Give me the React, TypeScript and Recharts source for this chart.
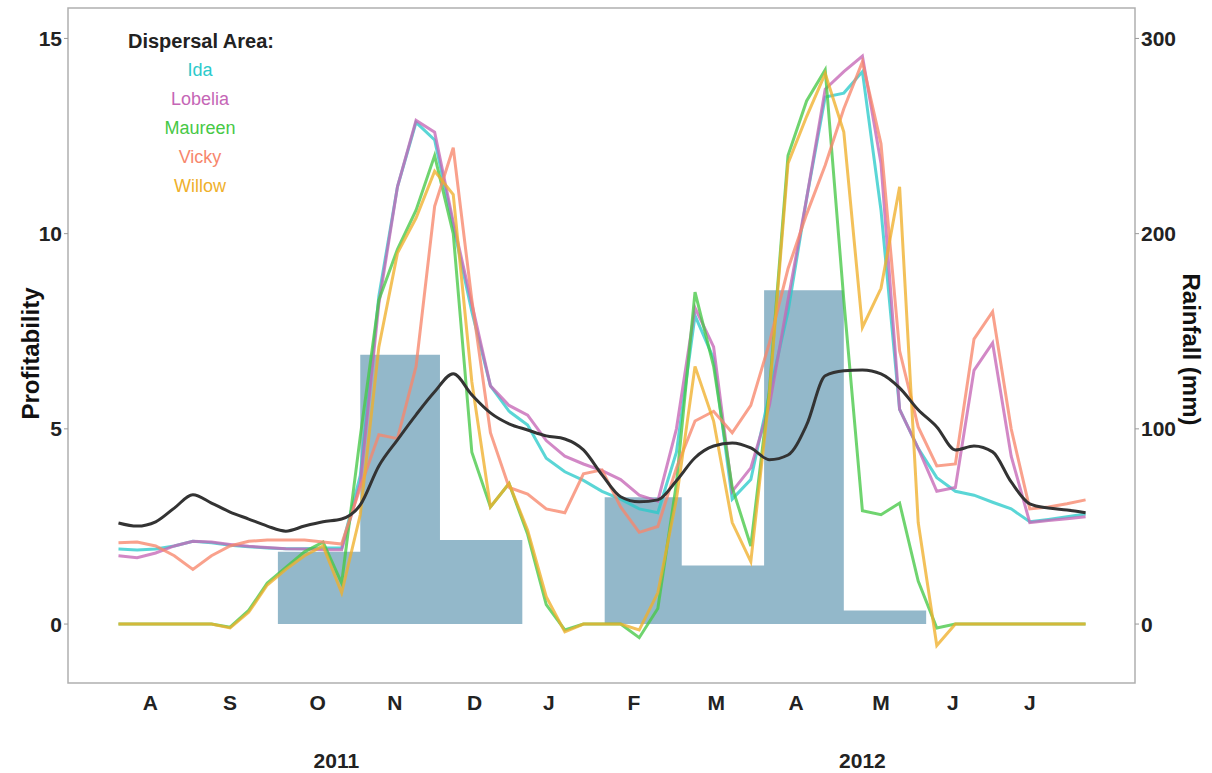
import React from 'react';
import { ComposedChart, Line, Area, XAxis, YAxis, ReferenceArea } from 'recharts';

// days since 1 Aug 2011
const days = [1, 8, 15, 22, 29, 36, 43, 50, 57, 64, 71, 78, 85, 92, 99, 106, 113, 120, 127, 134, 141, 148, 155, 162, 169, 176, 183, 190, 197, 204, 211, 218, 225, 232, 239, 246, 253, 260, 267, 274, 281, 288, 295, 302, 309, 316, 323, 330, 337, 344, 351, 358, 365];

const meanProfit = [2.59, 2.51, 2.62, 2.97, 3.31, 3.10, 2.87, 2.69, 2.51, 2.38, 2.51, 2.62, 2.69, 3.05, 4.05, 4.72, 5.36, 5.95, 6.41, 5.87, 5.41, 5.13, 4.97, 4.82, 4.74, 4.46, 3.82, 3.26, 3.13, 3.18, 3.67, 4.26, 4.56, 4.64, 4.51, 4.21, 4.33, 5.10, 6.36, 6.49, 6.51, 6.41, 6.05, 5.49, 5.05, 4.46, 4.56, 4.41, 3.64, 3.08, 2.97, 2.92, 2.85];

const ida = [1.92, 1.90, 1.92, 2.00, 2.12, 2.08, 2.02, 1.98, 1.95, 1.93, 1.93, 1.95, 1.95, 3.8, 8.4, 11.2, 12.85, 12.4, 10.2, 8.0, 6.1, 5.45, 5.1, 4.25, 3.9, 3.68, 3.4, 3.2, 2.95, 2.85, 4.4, 7.9, 6.8, 3.2, 3.7, 5.9, 8.0, 10.9, 13.5, 13.6, 14.15, 10.6, 5.5, 4.5, 3.75, 3.4, 3.3, 3.12, 2.95, 2.62, 2.68, 2.75, 2.82];

const lobelia = [1.75, 1.70, 1.82, 2.00, 2.12, 2.10, 2.04, 1.99, 1.96, 1.93, 1.92, 1.90, 1.90, 3.6, 8.2, 11.2, 12.9, 12.6, 10.3, 8.2, 6.1, 5.6, 5.35, 4.7, 4.3, 4.1, 3.93, 3.7, 3.3, 3.15, 5.0, 8.1, 7.1, 3.4, 4.0, 5.6, 8.3, 10.9, 13.7, 14.15, 14.55, 11.8, 5.5, 4.5, 3.4, 3.5, 6.5, 7.2, 4.3, 2.6, 2.65, 2.7, 2.75];

const maureen = [0, 0, 0, 0, 0, 0, -0.08, 0.35, 1.05, 1.45, 1.85, 2.1, 1.05, 4.8, 8.3, 9.6, 10.6, 12.0, 10.0, 4.4, 3.0, 3.6, 2.3, 0.5, -0.15, 0, 0, 0, -0.35, 0.4, 3.6, 8.5, 6.6, 3.5, 2.0, 6.0, 12.0, 13.4, 14.2, 8.3, 2.9, 2.8, 3.1, 1.1, -0.1, 0, 0, 0, 0, 0, 0, 0, 0];

const vicky = [2.08, 2.10, 2.00, 1.75, 1.40, 1.75, 2.00, 2.12, 2.15, 2.15, 2.15, 2.10, 2.05, 3.5, 4.85, 4.75, 6.6, 10.7, 12.2, 8.3, 4.9, 3.5, 3.33, 2.95, 2.85, 3.85, 3.95, 3.0, 2.35, 2.5, 4.0, 5.2, 5.45, 4.9, 5.6, 7.2, 9.1, 10.5, 11.75, 13.2, 14.4, 12.3, 7.0, 5.05, 4.05, 4.1, 7.3, 8.0, 5.0, 2.95, 3.0, 3.08, 3.18];

const willow = [0, 0, 0, 0, 0, 0, -0.1, 0.3, 1.0, 1.4, 1.75, 2.0, 0.8, 2.8, 7.1, 9.5, 10.4, 11.6, 11.0, 6.2, 3.0, 3.6, 2.4, 0.7, -0.2, 0, 0, 0, -0.15, 0.8, 3.2, 6.6, 5.2, 2.6, 1.6, 5.9, 11.8, 13.0, 14.1, 12.6, 7.6, 8.6, 11.2, 2.6, -0.55, 0, 0, 0, 0, 0, 0, 0, 0];

// monthly rainfall (mm), step starts at the first day of each month
const monthStartDays = [0, 31, 61, 92, 122, 153, 184, 213, 244, 274, 305, 335, 366];
const monthlyRain = [0, 0, 37, 138, 43, 0, 65, 30, 171, 7, 0, 0, 0];

const monthLabels = ['A', 'S', 'O', 'N', 'D', 'J', 'F', 'M', 'A', 'M', 'J', 'J'];
const monthLabelDays = [13, 43, 76, 105, 135, 163, 195, 226, 256, 288, 315, 344];
const yearLabels = ['2011', '2012'];
const yearLabelDays = [83, 281];

const profitTicks = [0, 5, 10, 15];
const rainTicks = [0, 100, 200, 300];

const seriesNames = ['Ida', 'Lobelia', 'Maureen', 'Vicky', 'Willow'];
const seriesColors = ['#2ccacb', '#c566b6', '#46c846', '#f7876c', '#efb02c'];
const seriesValues = [ida, lobelia, maureen, vicky, willow];

const X_DOMAIN: [number, number] = [-18, 383.6];
const L_DOMAIN: [number, number] = [-1.51, 15.78];
const R_DOMAIN: [number, number] = [-30.2, 315.6];

const lineData = days.map((d, i) => {
  const row: Record<string, number> = { day: d, mean: meanProfit[i] };
  seriesNames.forEach((n, j) => {
    row[n] = seriesValues[j][i];
  });
  return row;
});

const rainData = monthStartDays.map((d, i) => ({ day: d, rain: monthlyRain[i] }));

const FONT = '"Liberation Sans", Arial, Helvetica, sans-serif';
const tickStyle = { fill: '#222', fontSize: 21, fontWeight: 'bold' as const, fontFamily: FONT };

const LeftTitle = (props: any) => {
  const vb = props.viewBox || {};
  const cx = (vb.x ?? 0) + 30;
  const cy = (vb.y ?? 0) + (vb.height ?? 0) / 2 + 8;
  return (
    <text x={cx} y={cy} transform={`rotate(-90, ${cx}, ${cy})`} textAnchor="middle" dominantBaseline="central"
      style={{ fontFamily: FONT, fontWeight: 'bold', fontSize: 24, fill: '#111' }}>
      Profitability
    </text>
  );
};

const RightTitle = (props: any) => {
  const vb = props.viewBox || {};
  const cx = (vb.x ?? 0) + 56;
  const cy = (vb.y ?? 0) + (vb.height ?? 0) / 2 + 4;
  return (
    <text x={cx} y={cy} transform={`rotate(90, ${cx}, ${cy})`} textAnchor="middle" dominantBaseline="central"
      style={{ fontFamily: FONT, fontWeight: 'bold', fontSize: 24, fill: '#111' }}>
      Rainfall (mm)
    </text>
  );
};

export default function App() {
  return (
    <div style={{ position: 'absolute', left: 0, top: 0, width: 1212, height: 773, background: '#fff' }}>
      <ComposedChart width={1212} height={773} data={lineData} margin={{ top: 8, right: 0, bottom: 0, left: 0 }}>
        <XAxis xAxisId="m" type="number" dataKey="day" domain={X_DOMAIN} allowDataOverflow ticks={monthStartDays}
          interval={0} tick={false} tickSize={5} axisLine={false} tickLine={{ stroke: '#9a9a9a' }} height={6} />
        <XAxis xAxisId="lbl" type="number" dataKey="day" domain={X_DOMAIN} allowDataOverflow ticks={monthLabelDays}
          interval={0} tickFormatter={(v: number, i: number) => monthLabels[i]} axisLine={false} tickLine={false}
          tickSize={0} tickMargin={12} height={50} tick={tickStyle} />
        <XAxis xAxisId="yr" type="number" dataKey="day" domain={X_DOMAIN} allowDataOverflow ticks={yearLabelDays}
          interval={0} tickFormatter={(v: number, i: number) => yearLabels[i]} axisLine={false} tickLine={false}
          tickSize={0} tickMargin={14} height={34} tick={tickStyle} />
        <YAxis yAxisId="L" orientation="left" type="number" domain={L_DOMAIN} allowDataOverflow ticks={profitTicks}
          interval={0} width={68} axisLine={false} tickLine={{ stroke: '#9a9a9a' }} tickSize={4} tickMargin={2}
          tick={tickStyle} label={<LeftTitle />} />
        <YAxis yAxisId="R" orientation="right" type="number" domain={R_DOMAIN} allowDataOverflow ticks={rainTicks}
          interval={0} width={77} axisLine={false} tickLine={{ stroke: '#9a9a9a' }} tickSize={4} tickMargin={2}
          tick={tickStyle} label={<RightTitle />} />

        <ReferenceArea xAxisId="m" yAxisId="L" x1={X_DOMAIN[0]} x2={X_DOMAIN[1]} y1={L_DOMAIN[0]} y2={L_DOMAIN[1]}
          fill="none" stroke="#b0b0b0" strokeWidth={1.5} ifOverflow="visible" />

        <Area xAxisId="m" yAxisId="R" data={rainData} dataKey="rain" type="stepAfter" baseValue={0}
          fill="#93b8ca" fillOpacity={1} stroke="none" isAnimationActive={false} />

        {seriesNames.map((n, j) => (
          <Line key={n} xAxisId="m" yAxisId="L" dataKey={n} type="linear" stroke={seriesColors[j]} strokeWidth={3}
            strokeOpacity={0.78} dot={false} isAnimationActive={false} />
        ))}
        <Line xAxisId="m" yAxisId="L" dataKey="mean" type="monotone" stroke="#333" strokeWidth={3} dot={false}
          isAnimationActive={false} />
      </ComposedChart>

      <div style={{ position: 'absolute', left: 101, top: 30, width: 200, textAlign: 'center', fontFamily: FONT,
        fontWeight: 'bold', fontSize: 20, lineHeight: '22px', color: '#222' }}>
        Dispersal Area:
      </div>
      {seriesNames.map((n, j) => (
        <div key={n} style={{ position: 'absolute', left: 100, top: 59 + j * 29, width: 200, textAlign: 'center',
          fontFamily: FONT, fontSize: 18, lineHeight: '22px', color: seriesColors[j] }}>
          {n}
        </div>
      ))}
    </div>
  );
}
